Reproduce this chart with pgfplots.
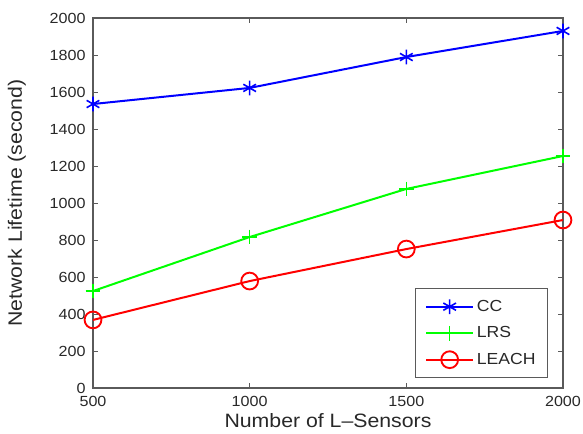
\documentclass[border=0pt]{standalone}
\usepackage{pgfplots}
\pgfplotsset{compat=1.18}
\usepackage{fontspec}
\setmainfont[FakeStretch=1.1]{Liberation Sans}
\definecolor{axgray}{RGB}{90,90,90}
\definecolor{txtgray}{RGB}{40,40,40}
\begin{document}
\begin{tikzpicture}
\path[use as bounding box] (-69.75pt,-34.5pt) rectangle (367.5pt,291pt);
\begin{axis}[
  anchor=south west, at={(0,0)},
  scale only axis,
  width=352.5pt, height=277.5pt,
  xmin=500, xmax=2000, ymin=0, ymax=2000,
  xtick={500,1000,1500,2000},
  ytick={0,200,...,2000},
  tick align=inside,
  tick style={axgray, line width=0.6pt},
  major tick length=4pt,
  axis line style={axgray, line width=1pt},
  /pgf/number format/assume math mode=true,
  /pgf/number format/1000 sep={},
  tick label style={font=\fontsize{11}{12}\selectfont, text=txtgray},
  xticklabel style={yshift=-3pt},
  yticklabel style={xshift=-2pt},
  xlabel={Number of L\textendash Sensors},
  ylabel={Network Lifetime (second)},
  label style={font=\fontsize{14.5}{16}\selectfont, text=txtgray},
  xlabel style={at={([yshift=-24.75pt]axis description cs:0.5,0)}, anchor=center},
  ylabel style={at={([xshift=-57pt]axis description cs:0,0.5)}, anchor=center},
  legend style={at={(0.968,0.027)}, anchor=south east, draw=axgray, line width=0.6pt,
     font=\fontsize{12}{14}\selectfont, row sep=6pt, inner xsep=7pt, inner ysep=6.5pt,
     text=txtgray},
  legend cell align=left,
  legend image code/.code={\draw[mark repeat=2,mark phase=2] plot coordinates {(0cm,0cm) (0.62cm,0cm) (1.24cm,0cm)};},
]
\addplot[blue, line width=1.5pt, mark=asterisk, mark size=5.5pt, mark options={line width=1.2pt}]
  coordinates {(500,1535) (1000,1622) (1500,1789) (2000,1930)};
\addlegendentry{CC}
\addplot[green, line width=1.5pt, mark=+, mark size=5.5pt, mark options={line width=1.2pt}]
  coordinates {(500,524) (1000,816) (1500,1076) (2000,1254)};
\addlegendentry{LRS}
\addplot[red, line width=1.5pt, mark=o, mark size=6.3pt, mark options={line width=1.4pt}]
  coordinates {(500,368) (1000,578) (1500,751) (2000,908)};
\addlegendentry{LEACH}
\end{axis}
\end{tikzpicture}
\end{document}
